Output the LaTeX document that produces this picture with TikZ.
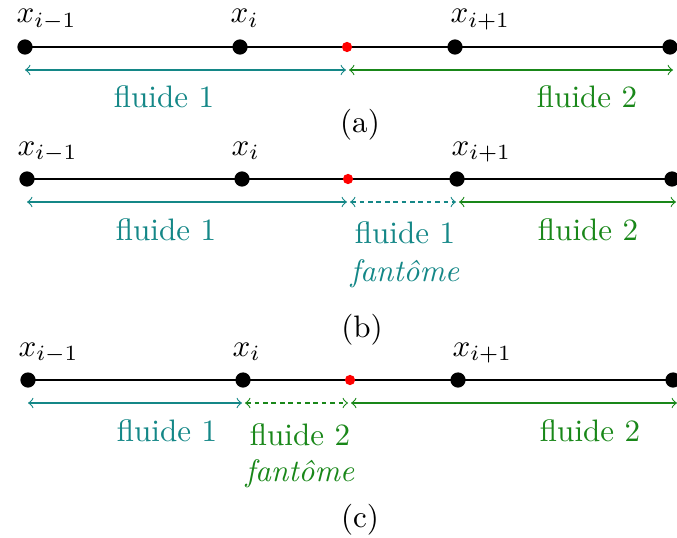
\documentclass[tikz,border=0pt]{standalone}
\begin{document}
\begin{tikzpicture}[x=0.322pt,y=-0.322pt,
  mainline/.style={line width=0.45pt,black},
  bigdot/.style={circle,fill=black,inner sep=0pt,minimum size=4.9pt},
  reddot/.style={circle,fill=red,inner sep=0pt,minimum size=3.3pt},
  fla/.style={line width=0.35pt,color=fteal,<->},
  flb/.style={line width=0.35pt,color=fgreen,<->},
  ghost/.style={dash pattern=on 1.5pt off 1.2pt},
  lab/.style={inner sep=0pt,anchor=base west},
  txt/.style={inner sep=0pt,anchor=base}]
\definecolor{fteal}{RGB}{20,135,135}
\definecolor{fgreen}{RGB}{25,135,25}
\useasboundingbox (0,0) rectangle (677,537);
\clip (0,0) rectangle (677,537);
% ---------- row (a)
\coordinate (a1) at (25,47); \coordinate (a2) at (240,47);
\coordinate (a3) at (455,47); \coordinate (a4) at (670,47);
\coordinate (ar) at (347,47);
\draw[mainline] (a1) -- (a4);
\node[bigdot] (A1) at (a1) {}; \node[bigdot] (A2) at (a2) {};
\node[bigdot] (A3) at (a3) {}; \node[bigdot] (A4) at (a4) {};
\node[reddot] (AR) at (ar) {};
\node[lab] (la1) at (16,23) {$x_{i-1}$};
\node[lab] (la2) at (230,23) {$x_i$};
\node[lab] (la3) at (450,23) {$x_{i+1}$};
\coordinate (pa1) at (25,70); \coordinate (pa2) at (346,70);
\coordinate (pa3) at (349,70); \coordinate (pa4) at (673,70);
\draw[fla] (pa1) -- (pa2);
\draw[flb] (pa3) -- (pa4);
\node[txt,text=fteal] (ta1) at (164,108) {fluide 1};
\node[txt,text=fgreen] (ta2) at (587,108) {fluide 2};
\node[txt] (capa) at (360,132) {(a)};
% ---------- row (b)
\coordinate (b1) at (27,179); \coordinate (b2) at (242,179);
\coordinate (b3) at (457,179); \coordinate (b4) at (672,179);
\coordinate (br) at (348,179);
\draw[mainline] (b1) -- (b4);
\node[bigdot] (B1) at (b1) {}; \node[bigdot] (B2) at (b2) {};
\node[bigdot] (B3) at (b3) {}; \node[bigdot] (B4) at (b4) {};
\node[reddot] (BR) at (br) {};
\node[lab] (lb1) at (17,155) {$x_{i-1}$};
\node[lab] (lb2) at (231,155) {$x_i$};
\node[lab] (lb3) at (451,155) {$x_{i+1}$};
\coordinate (pb1) at (27,202); \coordinate (pb2) at (347,202);
\coordinate (pb3) at (350,202); \coordinate (pb4) at (456,202);
\coordinate (pb5) at (459,202); \coordinate (pb6) at (676,202);
\draw[fla] (pb1) -- (pb2);
\draw[fla,ghost] (pb3) -- (pb4);
\draw[flb] (pb5) -- (pb6);
\node[txt,text=fteal] (tb1) at (166,240) {fluide 1};
\node[txt,text=fteal] (tb2) at (405,243) {fluide 1};
\node[txt,text=fteal] (tb3) at (405,281) {\textit{fant\^ome}};
\node[txt,text=fgreen] (tb4) at (588,240) {fluide 2};
\node[txt] (capb) at (362,337) {(b)};
% ---------- row (c)
\coordinate (c1) at (28,380); \coordinate (c2) at (243,380);
\coordinate (c3) at (458,380); \coordinate (c4) at (673,380);
\coordinate (cr) at (350,380);
\draw[mainline] (c1) -- (c4);
\node[bigdot] (C1) at (c1) {}; \node[bigdot] (C2) at (c2) {};
\node[bigdot] (C3) at (c3) {}; \node[bigdot] (C4) at (c4) {};
\node[reddot] (CR) at (cr) {};
\node[lab] (lc1) at (18,356) {$x_{i-1}$};
\node[lab] (lc2) at (232,356) {$x_i$};
\node[lab] (lc3) at (452,356) {$x_{i+1}$};
\coordinate (pc1) at (28,403); \coordinate (pc2) at (242,403);
\coordinate (pc3) at (245,403); \coordinate (pc4) at (348,403);
\coordinate (pc5) at (351,403); \coordinate (pc6) at (677,403);
\draw[fla] (pc1) -- (pc2);
\draw[flb,ghost] (pc3) -- (pc4);
\draw[flb] (pc5) -- (pc6);
\node[txt,text=fteal] (tc1) at (167,441) {fluide 1};
\node[txt,text=fgreen] (tc2) at (300,445) {fluide 2};
\node[txt,text=fgreen] (tc3) at (300,481) {\textit{fant\^ome}};
\node[txt,text=fgreen] (tc4) at (590,441) {fluide 2};
\node[txt] (capc) at (360,527) {(c)};
\end{tikzpicture}
\end{document}
